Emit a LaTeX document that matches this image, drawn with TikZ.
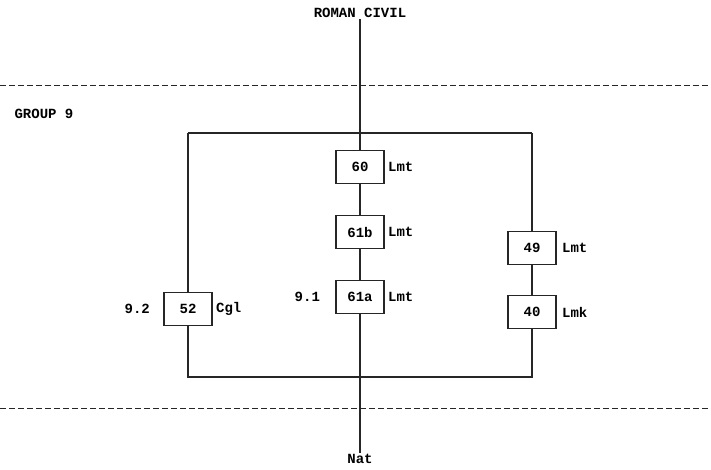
\documentclass[tikz,border=0pt]{standalone}
\usepackage{fontspec}
\setmainfont{Liberation Mono}
\usepackage{tikz}
\usetikzlibrary{positioning}
\colorlet{inkline}{black!85}

\begin{document}
\begin{tikzpicture}[x=1pt, y=-1pt,
    font=\fontsize{14}{16}\selectfont\bfseries,
    line width=1.1pt, draw=inkline,
    unitbox/.style={draw=inkline, fill=white, minimum width=48pt, minimum height=33pt, inner sep=0pt},
    tag/.style={inner sep=1pt},
    zone/.style={line width=0.9pt, dash pattern=on 6pt off 3pt}]
  \useasboundingbox (0,0) rectangle (711,469);

  % zone boundaries
  \coordinate (zt1) at (0,85);   \coordinate (zt2) at (711,85);
  \coordinate (zb1) at (0,408);  \coordinate (zb2) at (711,408);
  \draw[zone] (zt1) -- (zt2);
  \draw[zone] (zb1) -- (zb2);

  \node[tag] (group) at (44,114) {GROUP 9};

  % main line
  \node[tag] (civil) at (360,13) {ROMAN CIVIL};
  \node[tag] (nat) at (360,459) {Nat};
  \node[unitbox] (b60) at (360,167) {60};
  \node[unitbox] (b61b) at (360,232) {61b};
  \node[unitbox] (b61a) at (360,297) {61a};
  \node[tag, right=2pt of b60] (l60) {Lmt};
  \node[tag, right=2pt of b61b] (l61b) {Lmt};
  \node[tag, right=2pt of b61a] (l61a) {Lmt};
  \node[tag, left=14pt of b61a] (g91) {9.1};
  \draw (civil) -- (b60) -- (b61b) -- (b61a) -- (nat);

  % side branches
  \coordinate (tl) at (188,133); \coordinate (tr) at (532,133);
  \coordinate (bl) at (188,377); \coordinate (br) at (532,377);
  \node[unitbox] (b52) at (188,309) {52};
  \node[unitbox] (b49) at (532,248) {49};
  \node[unitbox] (b40) at (532,312) {40};
  \node[tag, right=2pt of b52] (l52) {Cgl};
  \node[tag, right=4pt of b49] (l49) {Lmt};
  \node[tag, right=4pt of b40] (l40) {Lmk};
  \node[tag, left=12pt of b52] (g92) {9.2};
  \draw (tl) -- (tr);
  \draw (tl) -- (b52) -- (bl) -- (br) -- (b40) -- (b49) -- (tr);
\end{tikzpicture}
\end{document}
